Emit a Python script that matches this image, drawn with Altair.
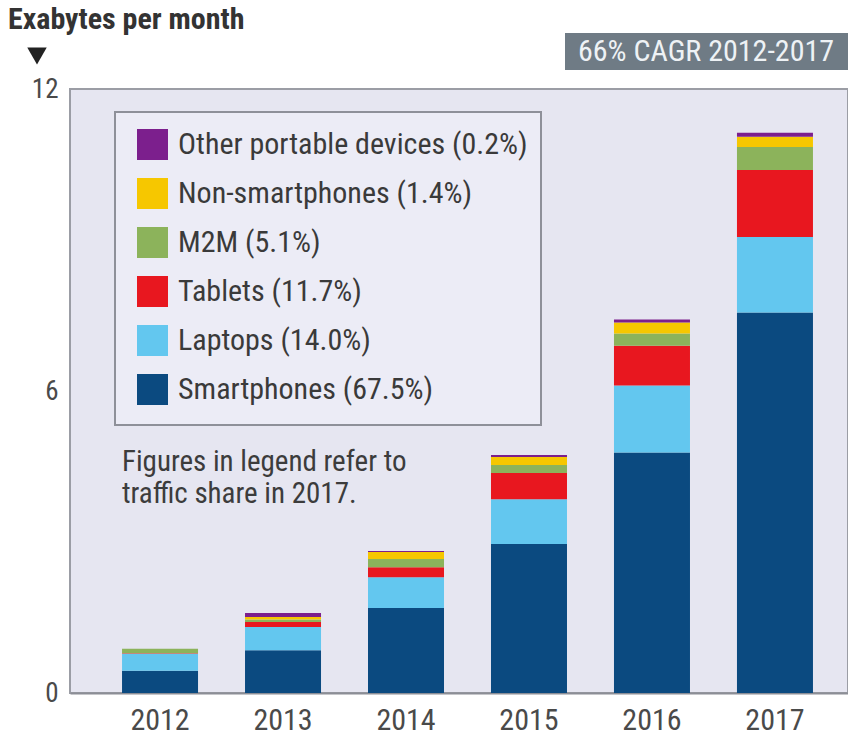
import altair as alt
import pandas as pd

years = ["2012", "2013", "2014", "2015", "2016", "2017"]
categories = ["Smartphones", "Laptops", "Tablets", "M2M", "Non-smartphones", "Other portable devices"]
shares_2017 = ["67.5%", "14.0%", "11.7%", "5.1%", "1.4%", "0.2%"]
colors = ["#0b4a80", "#63c7ef", "#e8171f", "#8cb35b", "#f6c700", "#7c1f8d"]

smartphones = [0.44, 0.85, 1.69, 2.96, 4.78, 7.56]
laptops = [0.34, 0.46, 0.61, 0.89, 1.33, 1.50]
tablets = [0.01, 0.10, 0.20, 0.52, 0.79, 1.33]
m2m = [0.09, 0.05, 0.16, 0.16, 0.24, 0.46]
non_smartphones = [0.0, 0.05, 0.14, 0.16, 0.22, 0.20]
other_portable = [0.0, 0.08, 0.02, 0.04, 0.06, 0.08]

y_ticks = [0, 6, 12]
title_text = "Exabytes per month"
cagr_text = "66% CAGR 2012-2017"
note_text = "Figures in legend refer to\ntraffic share in 2017."

FONT = "Liberation Sans Narrow, Roboto Condensed, DejaVu Sans Condensed, Liberation Sans, sans-serif"

series = [smartphones, laptops, tablets, m2m, non_smartphones, other_portable]
labels = [f"{c} ({s})" for c, s in zip(categories, shares_2017)]
rows = []
for i, (lab, vals) in enumerate(zip(labels, series)):
    for y, v in zip(years, vals):
        rows.append({"year": y, "device": lab, "value": v, "order": i})
df = pd.DataFrame(rows)

legend_domain = labels[::-1]
legend_range = colors[::-1]

bars = alt.Chart(df).mark_bar(size=76).encode(
    x=alt.X("year:N", title=None,
            scale=alt.Scale(range=[0, 795], paddingInner=0.382, paddingOuter=0.423),
            axis=alt.Axis(labelAngle=0, ticks=False, domain=True, domainColor="#8c8e96",
                          domainWidth=2, labelPadding=12, labelFontSize=30, labelFont=FONT,
                          labelColor="#4a4a4a", grid=False)),
    y=alt.Y("value:Q", stack="zero", title=None,
            scale=alt.Scale(domain=[0, 12], nice=False),
            axis=alt.Axis(values=y_ticks, ticks=False, domain=False, grid=False,
                          labelPadding=12, labelFontSize=27, labelFont=FONT,
                          labelColor="#4a4a4a")),
    color=alt.Color("device:N",
                    scale=alt.Scale(domain=legend_domain, range=legend_range),
                    legend=alt.Legend(orient="none", legendX=67, legendY=40, title=None,
                                      symbolType="square", symbolSize=961,
                                      symbolStrokeWidth=0, labelFontSize=30,
                                      labelFont=FONT, labelColor="#3a3a3a",
                                      labelOffset=10, rowPadding=18, padding=0,
                                      labelLimit=600)),
    order=alt.Order("order:Q", sort="ascending"),
)

legend_box = alt.Chart(pd.DataFrame({"k": [0]})).mark_rect(
    fill="#ececf6", stroke="#8e9099", strokeWidth=2
).encode(x=alt.value(45), x2=alt.value(471), y=alt.value(23), y2=alt.value(336))

note = alt.Chart(pd.DataFrame({"t": [note_text]})).mark_text(
    align="left", baseline="middle", fontSize=29, font=FONT, color="#3c3c3c",
    lineBreak="\n", lineHeight=32
).encode(text="t:N", x=alt.value(52), y=alt.value(373))

title = alt.Chart(pd.DataFrame({"t": [title_text]})).mark_text(
    align="left", baseline="alphabetic", fontSize=30, font=FONT, fontWeight="bold",
    color="#333333"
).encode(text="t:N", x=alt.value(-62), y=alt.value(-60))

arrow = alt.Chart(pd.DataFrame({"k": [0]})).mark_point(
    shape="triangle-down", filled=True, color="#222222", size=380, opacity=1
).encode(x=alt.value(-33), y=alt.value(-33))

cagr_box = alt.Chart(pd.DataFrame({"k": [0]})).mark_rect(fill="#6f7b85").encode(
    x=alt.value(495), x2=alt.value(800), y=alt.value(-56), y2=alt.value(-19)
)
cagr = alt.Chart(pd.DataFrame({"t": [cagr_text]})).mark_text(
    align="left", baseline="middle", fontSize=30, font=FONT, color="#eef2f5"
).encode(text="t:N", x=alt.value(508), y=alt.value(-37))

chart = alt.layer(legend_box, bars, note, title, arrow, cagr_box, cagr).properties(
    width=778, height=604,
    padding={"left": 70, "top": 89, "right": 0, "bottom": 44},
    autosize=alt.AutoSizeParams(type="none"),
    background="#ffffff",
).configure_view(fill="#e6e6f1", stroke="#9b9da5", strokeWidth=2)

chart.save("out.html", embed_options={"renderer": "svg", "actions": False})
